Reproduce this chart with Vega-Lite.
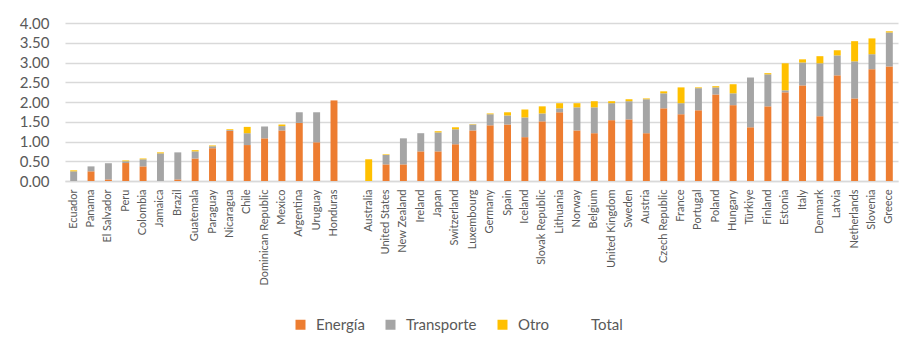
{
  "$schema": "https://vega.github.io/schema/vega-lite/v6.json",
  "autosize": "none",
  "width": 833,
  "height": 158,
  "padding": {"left": 65, "top": 23, "right": 25, "bottom": 177},
  "background": "white",
  "config": {
    "view": {"stroke": null},
    "font": "Lato",
    "axis": {"labelFont": "Lato", "labelColor": "#595959", "titleColor": "#595959"},
    "legend": {"labelFont": "Lato", "labelColor": "#595959"}
  },
  "datasets": {
    "raw": [
      {"pais": "Ecuador", "Energía": 0, "Transporte": 0.245, "Otro": 0.025},
      {"pais": "Panama", "Energía": 0.245, "Transporte": 0.125, "Otro": 0},
      {"pais": "El Salvador", "Energía": 0.04, "Transporte": 0.41, "Otro": 0},
      {"pais": "Peru", "Energía": 0.455, "Transporte": 0.045, "Otro": 0.02},
      {"pais": "Colombia", "Energía": 0.37, "Transporte": 0.18, "Otro": 0.02},
      {"pais": "Jamaica", "Energía": 0, "Transporte": 0.7, "Otro": 0.025},
      {"pais": "Brazil", "Energía": 0.04, "Transporte": 0.685, "Otro": 0},
      {"pais": "Guatemala", "Energía": 0.57, "Transporte": 0.18, "Otro": 0.03},
      {"pais": "Paraguay", "Energía": 0.83, "Transporte": 0.05, "Otro": 0.02},
      {"pais": "Nicaragua", "Energía": 1.27, "Transporte": 0.02, "Otro": 0.02},
      {"pais": "Chile", "Energía": 0.91, "Transporte": 0.3, "Otro": 0.16},
      {"pais": "Dominican Republic", "Energía": 1.08, "Transporte": 0.3, "Otro": 0},
      {"pais": "Mexico", "Energía": 1.28, "Transporte": 0.11, "Otro": 0.04},
      {"pais": "Argentina", "Energía": 1.47, "Transporte": 0.27, "Otro": 0},
      {"pais": "Uruguay", "Energía": 0.98, "Transporte": 0.76, "Otro": 0},
      {"pais": "Honduras", "Energía": 2.04, "Transporte": 0, "Otro": 0},
      {"pais": "Australia", "Energía": 0, "Transporte": 0, "Otro": 0.55},
      {"pais": "United States", "Energía": 0.42, "Transporte": 0.24, "Otro": 0.015},
      {"pais": "New Zealand", "Energía": 0.42, "Transporte": 0.66, "Otro": 0},
      {"pais": "Ireland", "Energía": 0.75, "Transporte": 0.46, "Otro": 0},
      {"pais": "Japan", "Energía": 0.75, "Transporte": 0.48, "Otro": 0.03},
      {"pais": "Switzerland", "Energía": 0.93, "Transporte": 0.38, "Otro": 0.05},
      {"pais": "Luxembourg", "Energía": 1.28, "Transporte": 0.15, "Otro": 0.01},
      {"pais": "Germany", "Energía": 1.41, "Transporte": 0.28, "Otro": 0.02},
      {"pais": "Spain", "Energía": 1.43, "Transporte": 0.23, "Otro": 0.08},
      {"pais": "Iceland", "Energía": 1.11, "Transporte": 0.5, "Otro": 0.2},
      {"pais": "Slovak Republic", "Energía": 1.51, "Transporte": 0.2, "Otro": 0.18},
      {"pais": "Lithuania", "Energía": 1.74, "Transporte": 0.1, "Otro": 0.13},
      {"pais": "Norway", "Energía": 1.28, "Transporte": 0.585, "Otro": 0.105},
      {"pais": "Belgium", "Energía": 1.21, "Transporte": 0.655, "Otro": 0.155},
      {"pais": "United Kingdom", "Energía": 1.54, "Transporte": 0.43, "Otro": 0.05},
      {"pais": "Sweden", "Energía": 1.56, "Transporte": 0.46, "Otro": 0.05},
      {"pais": "Austria", "Energía": 1.21, "Transporte": 0.86, "Otro": 0.02},
      {"pais": "Czech Republic", "Energía": 1.84, "Transporte": 0.38, "Otro": 0.05},
      {"pais": "France", "Energía": 1.69, "Transporte": 0.28, "Otro": 0.4},
      {"pais": "Portugal", "Energía": 1.79, "Transporte": 0.56, "Otro": 0.02},
      {"pais": "Poland", "Energía": 2.19, "Transporte": 0.18, "Otro": 0.03},
      {"pais": "Hungary", "Energía": 1.92, "Transporte": 0.3, "Otro": 0.23},
      {"pais": "Türkiye", "Energía": 1.36, "Transporte": 1.26, "Otro": 0},
      {"pais": "Finland", "Energía": 1.89, "Transporte": 0.81, "Otro": 0.03},
      {"pais": "Estonia", "Energía": 2.245, "Transporte": 0.05, "Otro": 0.685},
      {"pais": "Italy", "Energía": 2.42, "Transporte": 0.58, "Otro": 0.08},
      {"pais": "Denmark", "Energía": 1.64, "Transporte": 1.34, "Otro": 0.18},
      {"pais": "Latvia", "Energía": 2.675, "Transporte": 0.505, "Otro": 0.13},
      {"pais": "Netherlands", "Energía": 2.09, "Transporte": 0.94, "Otro": 0.51},
      {"pais": "Slovenia", "Energía": 2.83, "Transporte": 0.38, "Otro": 0.4},
      {"pais": "Greece", "Energía": 2.9, "Transporte": 0.86, "Otro": 0.03}
    ]
  },
  "data": {"name": "raw"},
  "transform": [
    {"fold": ["Energía", "Transporte", "Otro"], "as": ["tipo", "valor"]},
    {"calculate": "indexof(['Energía','Transporte','Otro'], datum.tipo)", "as": "orden"}
  ],
  "mark": {"type": "bar"},
  "encoding": {
    "x": {
      "field": "pais",
      "type": "nominal",
      "title": null,
      "scale": {
        "domain": ["Ecuador", "Panama", "El Salvador", "Peru", "Colombia", "Jamaica", "Brazil", "Guatemala", "Paraguay", "Nicaragua", "Chile", "Dominican Republic", "Mexico", "Argentina", "Uruguay", "Honduras", " ", "Australia", "United States", "New Zealand", "Ireland", "Japan", "Switzerland", "Luxembourg", "Germany", "Spain", "Iceland", "Slovak Republic", "Lithuania", "Norway", "Belgium", "United Kingdom", "Sweden", "Austria", "Czech Republic", "France", "Portugal", "Poland", "Hungary", "Türkiye", "Finland", "Estonia", "Italy", "Denmark", "Latvia", "Netherlands", "Slovenia", "Greece"],
        "paddingInner": 0.6,
        "paddingOuter": 0.3
      },
      "axis": {
        "labelAngle": -90,
        "labelFontSize": 11,
        "labelPadding": 8,
        "ticks": false,
        "domainColor": "#D9D9D9",
        "domainWidth": 1.5,
        "labelOverlap": false
      }
    },
    "y": {
      "field": "valor",
      "type": "quantitative",
      "aggregate": "sum",
      "stack": "zero",
      "title": null,
      "scale": {"domain": [0, 4], "nice": false},
      "axis": {
        "values": [0, 0.5, 1, 1.5, 2, 2.5, 3, 3.5, 4],
        "format": ".2f",
        "labelFontSize": 15,
        "labelPadding": 16,
        "ticks": false,
        "domain": false,
        "gridColor": "#D9D9D9",
        "gridWidth": 1.5
      }
    },
    "order": {"field": "orden", "type": "quantitative", "sort": "ascending"},
    "color": {
      "field": "tipo",
      "type": "nominal",
      "scale": {
        "domain": ["Energía", "Transporte", "Otro", "Total"],
        "range": ["#ED7D31", "#A5A5A5", "#FFC000", "rgba(0,0,0,0)"]
      },
      "legend": {
        "title": null,
        "orient": "none",
        "direction": "horizontal",
        "legendX": 228,
        "legendY": 294,
        "symbolType": "square",
        "symbolSize": 100,
        "symbolStrokeWidth": 0,
        "labelFontSize": 15,
        "labelOffset": 8,
        "columnPadding": 18
      }
    }
  }
}
